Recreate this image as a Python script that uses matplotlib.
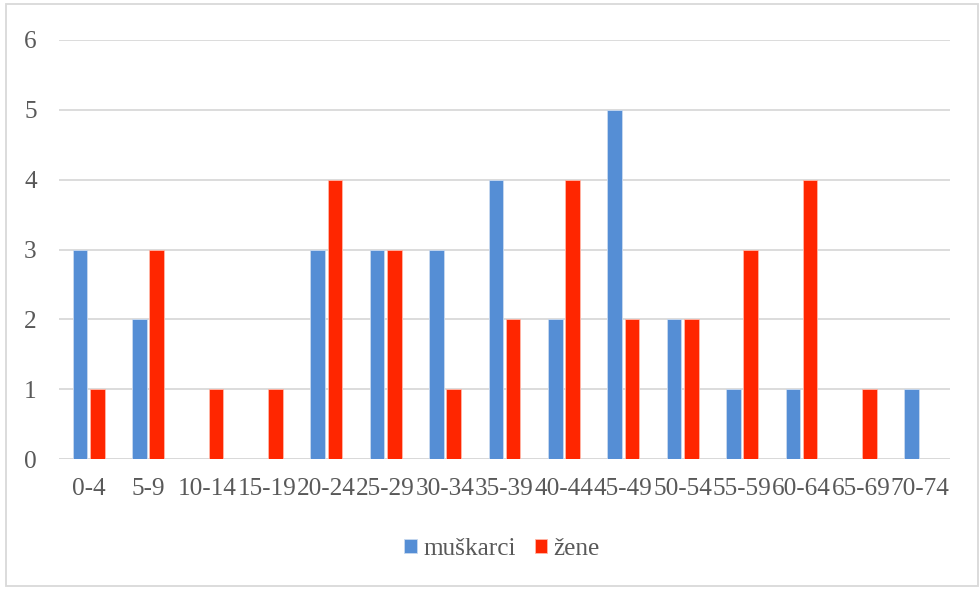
import numpy as np
import matplotlib.pyplot as plt
from matplotlib.patches import Rectangle

# age groups and counts per sex
groups = ['0-4', '5-9', '10-14', '15-19', '20-24', '25-29', '30-34', '35-39',
          '40-44', '45-49', '50-54', '55-59', '60-64', '65-69', '70-74']
muskarci = [3, 2, 0, 0, 3, 3, 3, 4, 2, 5, 2, 1, 1, 0, 1]
zene = [1, 3, 1, 1, 4, 3, 1, 2, 4, 2, 2, 3, 4, 1, 0]

plt.rcParams['font.family'] = ['Liberation Serif', 'DejaVu Serif']

fig = plt.figure(figsize=(9.8, 5.89), dpi=100)
ax = fig.add_axes([59 / 980, 1 - 459 / 589, 891 / 980, 419 / 589])

x = np.arange(len(groups))
w = 0.245
blue = '#558ED5'
red = '#FF2600'
ax.bar(x - 0.145, muskarci, w, color=blue, edgecolor='#C9DAF0', linewidth=0.6,
       label='muškarci', zorder=3)
ax.bar(x + 0.145, zene, w, color=red, edgecolor='#FFB8A8', linewidth=0.6,
       label='žene', zorder=3)

ax.set_xlim(-0.5, len(groups) - 0.5)
ax.set_ylim(0, 6)
ax.set_yticks(range(7))
ax.yaxis.grid(True, color='#D9D9D9', linewidth=1.3, zorder=0)
ax.set_xticks(x)
ax.set_xticklabels(groups)
ax.tick_params(axis='both', length=0, labelsize=18.2, colors='#595959')
ax.tick_params(axis='x', pad=14)
ax.tick_params(axis='y', pad=16)
for s in ax.spines.values():
    s.set_visible(False)
ax.axhline(0, color='#D9D9D9', linewidth=1.3, zorder=2)

leg = fig.legend(loc='center', bbox_to_anchor=(502 / 980, 1 - 549 / 589), ncol=2,
                 frameon=False, fontsize=18.2, handlelength=0.5, handleheight=0.5,
                 handletextpad=0.25, columnspacing=0.75)
for t in leg.get_texts():
    t.set_color('#595959')

# chart frame
fig.patches.append(Rectangle((6 / 980, 3 / 589), 972 / 980, 582 / 589,
                             transform=fig.transFigure, fill=False,
                             edgecolor='#D9D9D9', linewidth=1.3))

fig.savefig('out.png', dpi=100)
